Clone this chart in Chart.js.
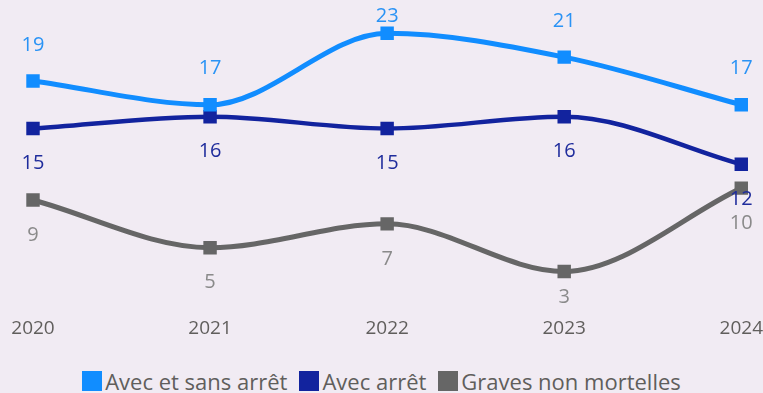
<!DOCTYPE html>
<html>
<head>
<meta charset="utf-8">
<script src="https://cdn.jsdelivr.net/npm/chart.js@4.4.1/dist/chart.umd.min.js"></script>
<style>
  html, body { margin: 0; padding: 0; background: #f1ebf3; }
  #wrap { position: relative; width: 763px; height: 393px; overflow: hidden; }
  #chartBox { position: absolute; left: 0; top: 0; width: 763px; height: 350px; }
  #legend {
    position: absolute; left: 0; top: 369px; width: 763px; height: 24px;
    display: flex; justify-content: center; align-items: center;
    font: 22px 'Open Sans', sans-serif; color: #605e5c; white-space: nowrap;
  }
  #legend .item { display: flex; align-items: center; margin: 0 6px; }
  #legend .swatch { width: 20px; height: 20px; margin-right: 3px; }
</style>
</head>
<body>
<div id="wrap">
  <div id="chartBox"><canvas id="accidentsChart"></canvas></div>
  <div id="legend"></div>
</div>
<script>
const years = ['2020', '2021', '2022', '2023', '2024'];
const avecEtSansArret = [19, 17, 23, 21, 17];
const avecArret = [15, 16, 15, 16, 12];
const gravesNonMortelles = [9, 5, 7, 3, 10];

const seriesNames = ['Avec et sans arrêt', 'Avec arrêt', 'Graves non mortelles'];
const lineColors = ['#118dff', '#12239e', '#666666'];
const labelColors = ['#2a93f5', '#1f2c9c', '#8a8a8a'];
const labelAbove = [true, false, false];

const FONT = "'Open Sans', sans-serif";

// value labels drawn next to each point
const valueLabels = {
  id: 'valueLabels',
  afterDatasetsDraw(chart) {
    const ctx = chart.ctx;
    ctx.save();
    ctx.font = '20px ' + FONT;
    ctx.textAlign = 'center';
    ctx.textBaseline = 'middle';
    chart.data.datasets.forEach((ds, i) => {
      const meta = chart.getDatasetMeta(i);
      ctx.fillStyle = labelColors[i];
      meta.data.forEach((pt, j) => {
        let y = labelAbove[i] ? pt.y - 36 : pt.y + 35;
        y = Math.min(Math.max(y, 16), 297);
        ctx.fillText(String(ds.data[j]), pt.x, y);
      });
    });
    ctx.restore();
  }
};

const makeSet = (i, data, width) => ({
  label: seriesNames[i],
  data: data,
  borderColor: lineColors[i],
  backgroundColor: lineColors[i],
  borderWidth: width,
  cubicInterpolationMode: 'monotone',
  pointStyle: 'rect',
  pointRadius: 9.5,
  pointHoverRadius: 9.5,
  pointBorderWidth: 0,
  fill: false
});

new Chart(document.getElementById('accidentsChart'), {
  type: 'line',
  data: {
    labels: years,
    datasets: [
      makeSet(0, avecEtSansArret, 5),
      makeSet(1, avecArret, 4.5),
      makeSet(2, gravesNonMortelles, 5)
    ]
  },
  options: {
    responsive: true,
    maintainAspectRatio: false,
    animation: false,
    layout: { padding: { left: 33, right: 0, top: 3, bottom: 10 } },
    plugins: { legend: { display: false }, tooltip: { enabled: false } },
    scales: {
      x: {
        offset: false,
        // hidden tick marks still reserve the gap above the year labels
        grid: { display: false, drawTicks: true, tickLength: 10 },
        border: { display: false },
        ticks: { color: '#605e5c', font: { family: FONT, size: 19 }, padding: 0, maxRotation: 0 }
      },
      y: {
        display: false,
        min: 0,
        max: 25
      }
    }
  },
  plugins: [valueLabels]
});

// legend row under the chart
const legend = document.getElementById('legend');
seriesNames.forEach((name, i) => {
  const item = document.createElement('span');
  item.className = 'item';
  const sw = document.createElement('span');
  sw.className = 'swatch';
  sw.style.background = lineColors[i];
  const txt = document.createElement('span');
  txt.textContent = name;
  item.appendChild(sw);
  item.appendChild(txt);
  legend.appendChild(item);
});
</script>
</body>
</html>
